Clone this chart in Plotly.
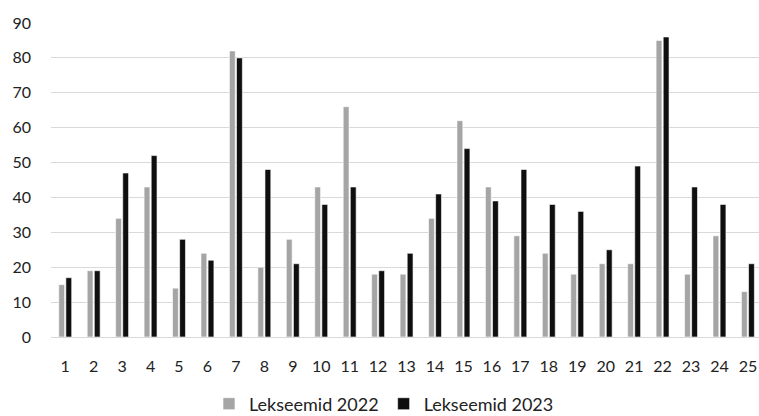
import plotly.graph_objects as go

categories = [str(i) for i in range(1, 26)]
lekseemid_2022 = [15, 19, 34, 43, 14, 24, 82, 20, 28, 43, 66, 18, 18, 34, 62, 43, 29, 24, 18, 21, 21, 85, 18, 29, 13]
lekseemid_2023 = [17, 19, 47, 52, 28, 22, 80, 48, 21, 38, 43, 19, 24, 41, 54, 39, 48, 38, 36, 25, 49, 86, 43, 38, 21]
y_ticks = list(range(0, 100, 10))

FONT = "Lato, Carlito, 'Open Sans', sans-serif"
W, H = 759, 416

fig = go.Figure()
fig.add_trace(go.Bar(
    x=categories, y=lekseemid_2022, name="Lekseemid 2022",
    marker=dict(color="#A5A5A5", line=dict(color="white", width=0.6)),
))
fig.add_trace(go.Bar(
    x=categories, y=lekseemid_2023, name="Lekseemid 2023",
    marker=dict(color="#0F0F0F", line=dict(color="white", width=0.6)),
))

fig.update_layout(
    width=W, height=H,
    margin=dict(l=51, r=0, t=23, b=79),
    paper_bgcolor="white", plot_bgcolor="white",
    barmode="group", bargap=0.5, bargroupgap=0.18,
    font=dict(family=FONT, size=16, color="#222222"),
    showlegend=True,
    legend=dict(
        orientation="h",
        xref="container", x=209 / W, xanchor="left",
        yref="container", y=(H - 404) / H, yanchor="middle",
        font=dict(size=18, color="#222222"),
        itemwidth=30, tracegroupgap=0,
    ),
    xaxis=dict(
        type="category", range=[-0.5, 24.39],
        showgrid=False, showline=False, zeroline=False,
        ticks="", ticklabelstandoff=18,
        tickfont=dict(size=16),
    ),
    yaxis=dict(
        range=[0, 90], tickvals=y_ticks,
        showgrid=True, gridcolor="#D9D9D9", gridwidth=1,
        zeroline=True, zerolinecolor="#D9D9D9", zerolinewidth=1,
        showline=False, ticks="", ticklabelstandoff=19,
        tickfont=dict(size=16),
    ),
)

fig.write_html("out.html")
